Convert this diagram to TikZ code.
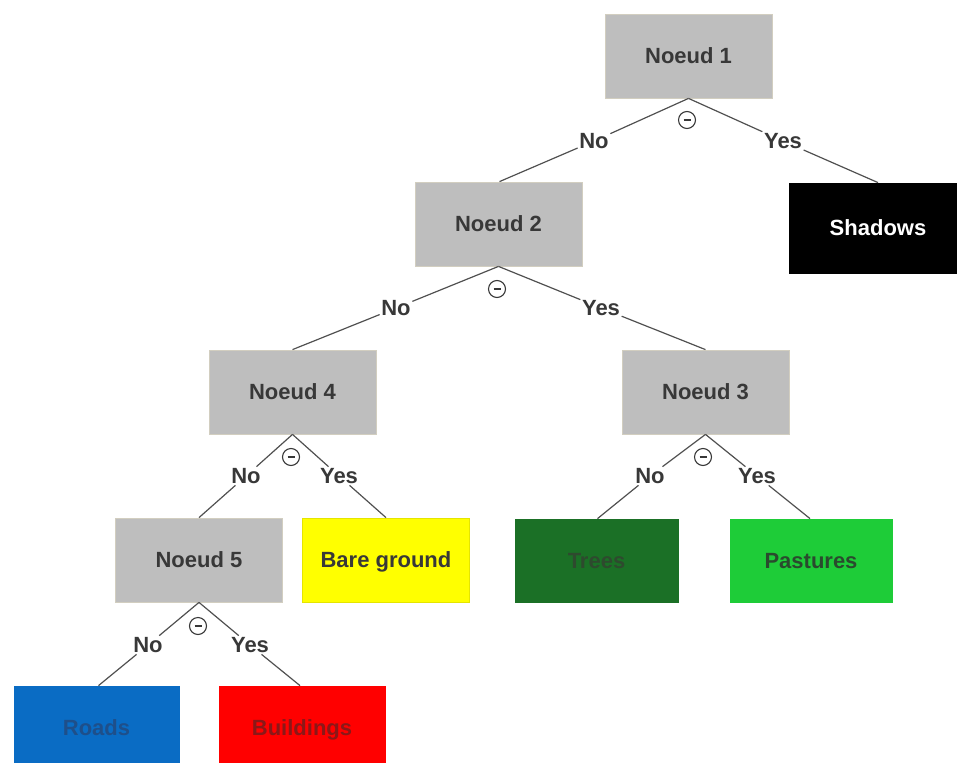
\documentclass[tikz,border=0pt]{standalone}
\usepackage{fontspec}
\setmainfont{Liberation Sans}
\definecolor{nodegrey}{HTML}{BEBEBE}
\definecolor{nodeborder}{HTML}{D2CEC0}
\definecolor{txt}{HTML}{383838}
\definecolor{edge}{HTML}{505050}
\definecolor{treesfill}{HTML}{1B7026}
\definecolor{treestxt}{HTML}{2E4A2E}
\definecolor{pastfill}{HTML}{1ECC38}
\definecolor{pasttxt}{HTML}{2A4A2E}
\definecolor{roadfill}{HTML}{0A6CC4}
\definecolor{roadtxt}{HTML}{1E4F8A}
\definecolor{buildfill}{HTML}{FF0000}
\definecolor{buildtxt}{HTML}{8A1818}
\definecolor{yellowfill}{HTML}{FFFF00}
\begin{document}
\begin{tikzpicture}[x=1pt,y=-1pt,
  box/.style={rectangle, minimum width=167pt, minimum height=84pt, inner sep=0pt,
    text height=15.8pt, text depth=0pt,
    font=\fontsize{22}{26}\selectfont\bfseries, text=txt, line width=0.8pt},
  greybox/.style={box, fill=nodegrey, draw=nodeborder},
  lbl/.style={inner sep=1.5pt, font=\fontsize{22}{26}\selectfont\bfseries, text=txt},
  edgeline/.style={draw=edge, line width=1.2pt},
  minus/.style={circle, draw=txt, line width=1.1pt, minimum size=17pt, inner sep=0pt,
    path picture={\draw[txt, line width=1.3pt] ([xshift=-3.5pt]path picture bounding box.center) -- ([xshift=3.5pt]path picture bounding box.center);}}
]
\useasboundingbox (0,0) rectangle (957,762);

% decision nodes
\node[greybox] (n1) at (688.5,56) {Noeud 1};
\node[greybox] (n2) at (498.5,224) {Noeud 2};
\node[greybox] (n4) at (292.5,392) {Noeud 4};
\node[greybox] (n3) at (705.5,392) {Noeud 3};
\node[greybox] (n5) at (199,560) {Noeud 5};

% leaves
\node[box, fill=black, draw=black, text=white, minimum width=168pt, minimum height=90pt] (shadows) at (873,228) {\hspace{10pt}Shadows};
\node[box, fill=yellowfill, draw=yellowfill!90!black] (bare) at (386,560) {Bare ground};
\node[box, fill=treesfill, draw=treesfill, text=treestxt, minimum width=163pt, minimum height=83pt] (trees) at (596.5,560.5) {Trees};
\node[box, fill=pastfill, draw=pastfill, text=pasttxt, minimum width=162pt, minimum height=83pt] (past) at (811,560.5) {Pastures};
\node[box, fill=roadfill, draw=roadfill, text=roadtxt, minimum width=165pt, minimum height=84pt] (roads) at (96.5,728) {Roads};
\node[box, fill=buildfill, draw=buildfill, text=buildtxt, minimum width=166pt, minimum height=84pt] (build) at (302,728) {Buildings};

% labels
\node[lbl] (no1) at (594,141) {No};
\node[lbl] (yes1) at (783,141) {Yes};
\node[lbl] (no2) at (396,308) {No};
\node[lbl] (yes2) at (601,308) {Yes};
\node[lbl] (no4) at (246,476) {No};
\node[lbl] (yes4) at (339,476) {Yes};
\node[lbl] (no3) at (650,476) {No};
\node[lbl] (yes3) at (757,476) {Yes};
\node[lbl] (no5) at (148,645) {No};
\node[lbl] (yes5) at (250,645) {Yes};

% minus markers
\node[minus] (m1) at (687,120) {};
\node[minus] (m2) at (497,289) {};
\node[minus] (m4) at (291,457) {};
\node[minus] (m3) at (703,457) {};
\node[minus] (m5) at (198,626) {};

% edges
\draw[edgeline] (n1.south) -- (no1);
\draw[edgeline] (no1) -- ([xshift=1pt]n2.north);
\draw[edgeline] (n1.south) -- (yes1);
\draw[edgeline] (yes1) -- ([xshift=5pt]shadows.north);

\draw[edgeline] (n2.south) -- (no2);
\draw[edgeline] (no2) -- (n4.north);
\draw[edgeline] (n2.south) -- (yes2);
\draw[edgeline] (yes2) -- (n3.north);

\draw[edgeline] (n4.south) -- (no4);
\draw[edgeline] (no4) -- (n5.north);
\draw[edgeline] (n4.south) -- (yes4);
\draw[edgeline] (yes4) -- (bare.north);

\draw[edgeline] (n3.south) -- (no3);
\draw[edgeline] (no3) -- ([xshift=1pt]trees.north);
\draw[edgeline] (n3.south) -- (yes3);
\draw[edgeline] (yes3) -- ([xshift=-1pt]past.north);

\draw[edgeline] (n5.south) -- (no5);
\draw[edgeline] (no5) -- ([xshift=2pt]roads.north);
\draw[edgeline] (n5.south) -- (yes5);
\draw[edgeline] (yes5) -- ([xshift=-2pt]build.north);
\end{tikzpicture}
\end{document}
